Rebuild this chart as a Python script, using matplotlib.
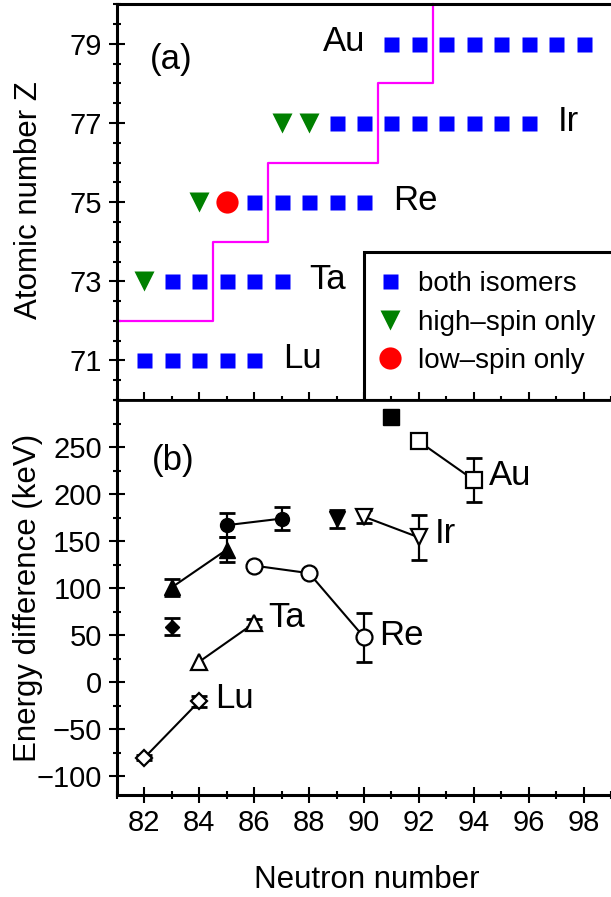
import matplotlib
matplotlib.use("Agg")
import matplotlib.pyplot as plt
from matplotlib.patches import Rectangle
from matplotlib.ticker import MultipleLocator

plt.rcParams['font.family'] = ['Liberation Sans', 'DejaVu Sans']

# ---------------- panel (a) data ----------------
elements = ['Lu', 'Ta', 'Re', 'Ir', 'Au']
element_Z = [71, 73, 75, 77, 79]
both_N = [[82, 83, 84, 85, 86],
          [83, 84, 85, 86, 87],
          [86, 87, 88, 89, 90],
          [89, 90, 91, 92, 93, 94, 95, 96],
          [91, 92, 93, 94, 95, 96, 97, 98]]
high_N = [[], [82], [84], [87, 88], []]
low_N = [[], [], [85], [], []]
label_N_a = [87.06, 88.02, 91.06, 97.07, 90.05]
label_ha_a = ['left', 'left', 'left', 'left', 'right']

# boundary (magenta step line)
step_N = [81, 84.5, 86.5, 90.5, 92.5]
step_Z = [72, 74, 76, 78, 80]

# ---------------- panel (b) data ----------------
# connected open series
lu_N = [82, 84];        lu_E = [-80, -20];       lu_err = [3, 6]
ta_N = [84, 86];        ta_E = [22, 63];         ta_err = [0, 4]
re_N = [86, 88, 90];    re_E = [124, 116, 48];   re_err = [0, 0, 26]
ir_N = [90, 92];        ir_E = [176, 154];       ir_err = [7, 24]
au_N = [92, 94];        au_E = [256, 215];       au_err = [5, 23]
# filled series
ftri_N = [83, 85];      ftri_E = [101, 141];     ftri_err = [9, 13]
fcirc_N = [85, 87];     fcirc_E = [167, 174];    fcirc_err = [13, 12]
fdia_N = [83];          fdia_E = [59];           fdia_err = [9]
fdtri_N = [89];         fdtri_E = [174];         fdtri_err = [9.5]
fsq_N = [91];           fsq_E = [282];           fsq_err = [0]

labels_b = ['Lu', 'Ta', 'Re', 'Ir', 'Au']
label_pos_b = [(84.56, -17), (86.5, 69), (90.56, 50), (92.56, 158), (94.54, 220)]

W, H = 611, 897
fig = plt.figure(figsize=(W / 100, H / 100), dpi=100)
L = 117 / W
axA = fig.add_axes([L, 1 - 400 / H, 1 - L, (400 - 4.3) / H])
axB = fig.add_axes([L, 1 - 795.3 / H, 1 - L, (795.3 - 400) / H])

spine_lw = 2.2
for ax in (axA, axB):
    ax.spines['right'].set_visible(False)
    for s in ('left', 'bottom', 'top'):
        ax.spines[s].set_linewidth(spine_lw)
    ax.set_xlim(81, 99)
    ax.xaxis.set_major_locator(MultipleLocator(2))
    ax.xaxis.set_minor_locator(MultipleLocator(1))

# ---- panel (a) ----
axA.set_ylim(70, 80)
axA.yaxis.set_major_locator(MultipleLocator(2, offset=1))
axA.yaxis.set_minor_locator(MultipleLocator(0.5))
axA.tick_params(axis='y', which='major', direction='inout', length=12, width=1.5,
                labelsize=21, pad=5)
axA.tick_params(axis='y', which='minor', direction='inout', length=6, width=1.5)
axA.tick_params(axis='x', which='major', direction='in', length=6, width=1.5, labelbottom=False)
axA.tick_params(axis='x', which='minor', direction='in', length=3, width=1.5)

sx, sy = [], []
for i in range(len(step_N) - 1):
    sx += [step_N[i], step_N[i + 1]]
    sy += [step_Z[i], step_Z[i]]
    sx += [step_N[i + 1]]
    sy += [step_Z[i + 1]]
axA.plot(sx, sy, color='#ff00ff', lw=1.6, zorder=2, clip_on=False)

h_both = h_high = h_low = None
for i, el in enumerate(elements):
    z = element_Z[i]
    if both_N[i]:
        h_both, = axA.plot(both_N[i], [z] * len(both_N[i]), ls='none', marker='s',
                           ms=10.8, color='#0000ff', mec='none', zorder=3)
    if high_N[i]:
        h_high, = axA.plot(high_N[i], [z] * len(high_N[i]), ls='none', marker='v',
                           ms=14, color='#008000', mec='none', zorder=3)
    if low_N[i]:
        h_low, = axA.plot(low_N[i], [z] * len(low_N[i]), ls='none', marker='o',
                          ms=16, color='#ff0000', mec='none', zorder=3)
    axA.text(label_N_a[i], z + 0.05, el, ha=label_ha_a[i], va='center', fontsize=25)

axA.text(82.2, 78.6, '(a)', ha='left', va='center', fontsize=25)

# legend frame
axA.add_patch(Rectangle((0.5006, 0), 0.6, 0.3748, transform=axA.transAxes,
                        fill=False, edgecolor='black', lw=2.2, clip_on=False, zorder=4))
leg = fig.legend([h_both, h_high, h_low], ['both isomers', 'high\u2013spin only', 'low\u2013spin only'],
                 loc='upper left', bbox_to_anchor=(376.5 / W, 1 - 271 / H),
                 frameon=False, fontsize=20, handlelength=1.0, handletextpad=0.5,
                 labelspacing=0.45, borderpad=0, borderaxespad=0, numpoints=1)

fig.text(37 / W, 1 - 200 / H, 'Atomic number Z', rotation=90, rotation_mode='anchor',
         ha='center', va='baseline', fontsize=22.5)

# ---- panel (b) ----
axB.set_ylim(-120, 300)
axB.yaxis.set_major_locator(MultipleLocator(50))
axB.yaxis.set_minor_locator(MultipleLocator(25))
axB.tick_params(axis='both', which='major', direction='inout', length=12, width=1.5,
                labelsize=21, pad=5)
axB.tick_params(axis='both', which='minor', direction='inout', length=6, width=1.5)
axB.tick_params(axis='x', which='major', pad=4)
axB.spines['top'].set_linewidth(2.0)
axB.set_yticks([-100, -50, 0, 50, 100, 150, 200, 250])
axB.set_yticklabels(['\u2212100', '\u221250', '0', '50', '100', '150', '200', '250'])

open_kw = dict(mfc='white', mec='black', mew=1.6, color='black', lw=1.5)
fill_kw = dict(mfc='black', mec='black', mew=1.0, color='black', lw=1.5)
err_kw = dict(fmt='none', ecolor='black', elinewidth=1.6, capsize=5.5, capthick=2.0, zorder=2)

series = [
    (lu_N, lu_E, lu_err, 'D', 8.0, open_kw, '-'),
    (ta_N, ta_E, ta_err, '^', 11, open_kw, '-'),
    (re_N, re_E, re_err, 'o', 11.5, open_kw, '-'),
    (ir_N, ir_E, ir_err, 'v', 11, open_kw, '-'),
    (au_N, au_E, au_err, 's', 12, open_kw, '-'),
    (ftri_N, ftri_E, ftri_err, '^', 11, fill_kw, '-'),
    (fcirc_N, fcirc_E, fcirc_err, 'o', 10, fill_kw, '-'),
    (fdia_N, fdia_E, fdia_err, 'D', 7.2, fill_kw, 'none'),
    (fdtri_N, fdtri_E, fdtri_err, 'v', 11, fill_kw, 'none'),
    (fsq_N, fsq_E, fsq_err, 's', 11, fill_kw, 'none'),
]
for n, e, err, mk, ms, kw, ls in series:
    ne = [a for a, b in zip(n, err) if b > 0]
    ee = [a for a, b in zip(e, err) if b > 0]
    er = [b for b in err if b > 0]
    if ne:
        axB.errorbar(ne, ee, yerr=er, **err_kw)
    axB.plot(n, e, ls=ls, marker=mk, ms=ms, zorder=3, **kw)

for lab, (x, y) in zip(labels_b, label_pos_b):
    axB.text(x, y, lab, ha='left', va='center', fontsize=25)
axB.text(82.26, 236, '(b)', ha='left', va='center', fontsize=25)

fig.text(36 / W, 1 - 598 / H, 'Energy difference (keV)', rotation=90, rotation_mode='anchor',
         ha='center', va='baseline', fontsize=22.5)
fig.text(367 / W, 1 - 880 / H, 'Neutron number', ha='center', va='center', fontsize=22.5)

fig.savefig('out.png', dpi=100)
